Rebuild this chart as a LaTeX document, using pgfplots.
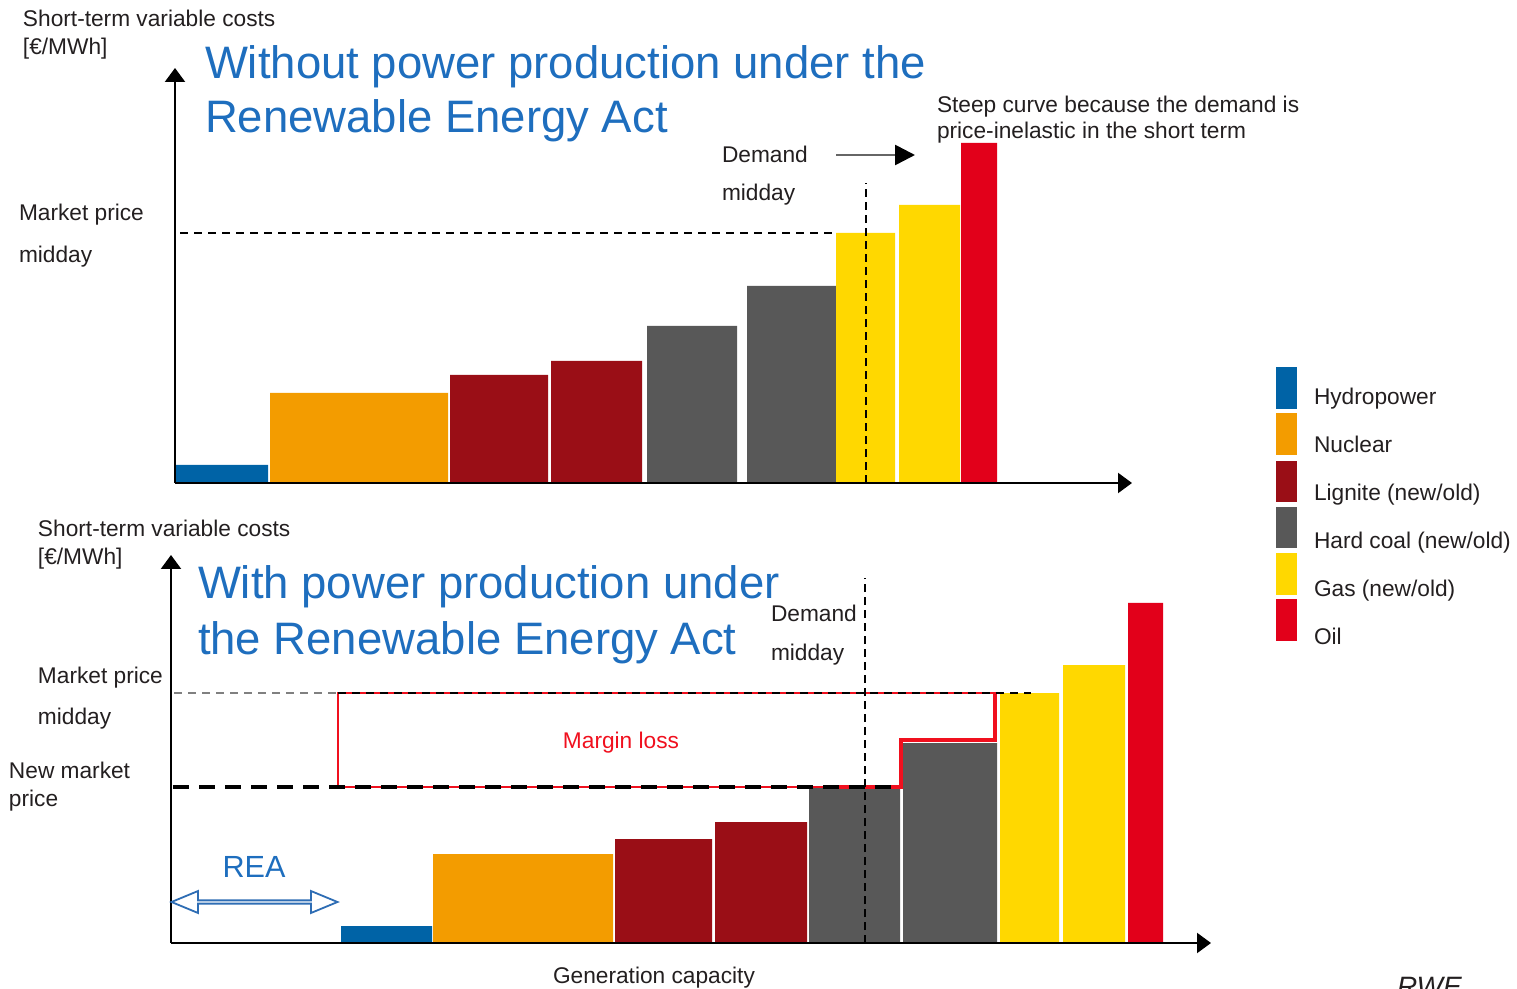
\documentclass[border=0pt]{standalone}
\usepackage{pgfplots}
\pgfplotsset{compat=1.18}
\usepackage{fontspec}
\setmainfont{Liberation Sans}
\usetikzlibrary{arrows.meta,shapes.arrows}
\definecolor{hydro}{HTML}{0063A6}
\definecolor{nuclear}{HTML}{F39C00}
\definecolor{lignite}{HTML}{9A0E16}
\definecolor{hardcoal}{HTML}{585858}
\definecolor{gas}{HTML}{FFD800}
\definecolor{oil}{HTML}{E2001A}
\definecolor{titleblue}{HTML}{1E6EBE}
\definecolor{reablue}{HTML}{2E6DB4}
\definecolor{txt}{HTML}{231F20}
\definecolor{marginred}{HTML}{F0101E}
\newcommand{\bodyfont}{\fontsize{11.35pt}{13.6pt}\selectfont}
\newcommand{\titlefont}{\fontsize{22.75pt}{27pt}\selectfont}
\begin{document}
\begin{tikzpicture}
\useasboundingbox (0,0) rectangle (758.5pt,-494.5pt);
% ---------------- top panel ----------------
\begin{axis}[
  at={(87.5pt,-241.5pt)}, anchor=south west,
  x=0.5pt, y=0.5pt,
  xmin=0, xmax=957, ymin=0, ymax=415,
  axis lines=left, axis on top,
  axis line style={line width=1.1pt, -{Triangle[length=7pt,width=10pt]}},
  xtick=\empty, ytick=\empty,
  clip=false,
]
\addplot[fill=hydro, draw=none] coordinates {(0,0)(0,18)(93,18)(93,0)} \closedcycle;
\addplot[fill=nuclear, draw=none] coordinates {(95,0)(95,90)(273,90)(273,0)} \closedcycle;
\addplot[fill=lignite, draw=none] coordinates {(275,0)(275,108)(373,108)(373,0)} \closedcycle;
\addplot[fill=lignite, draw=none] coordinates {(376,0)(376,122)(467,122)(467,0)} \closedcycle;
\addplot[fill=hardcoal, draw=none] coordinates {(472,0)(472,157)(562,157)(562,0)} \closedcycle;
\addplot[fill=hardcoal, draw=none] coordinates {(572,0)(572,197)(661,197)(661,0)} \closedcycle;
\addplot[fill=gas, draw=none] coordinates {(661,0)(661,250)(720,250)(720,0)} \closedcycle;
\addplot[fill=gas, draw=none] coordinates {(724,0)(724,278)(785,278)(785,0)} \closedcycle;
\addplot[fill=oil, draw=none] coordinates {(786,0)(786,340)(822,340)(822,0)} \closedcycle;
% market price
\addplot[black, line width=0.8pt, dash pattern=on 4pt off 3pt] coordinates {(5,250)(661,250)};
% demand
\addplot[black, line width=0.9pt, dash pattern=on 4pt off 2.5pt] coordinates {(691,0)(691,300)};
\end{axis}
% ---------------- bottom panel ----------------
\begin{axis}[
  at={(85.5pt,-471.5pt)}, anchor=south west,
  x=0.5pt, y=0.5pt,
  xmin=0, xmax=1040, ymin=0, ymax=388,
  axis lines=left, axis on top,
  axis line style={line width=1.1pt, -{Triangle[length=7pt,width=10pt]}},
  xtick=\empty, ytick=\empty,
  clip=false,
]
\addplot[fill=hydro, draw=none] coordinates {(170,0)(170,17)(261,17)(261,0)} \closedcycle;
\addplot[fill=nuclear, draw=none] coordinates {(262,0)(262,89)(442,89)(442,0)} \closedcycle;
\addplot[fill=lignite, draw=none] coordinates {(444,0)(444,104)(541,104)(541,0)} \closedcycle;
\addplot[fill=lignite, draw=none] coordinates {(544,0)(544,121)(636,121)(636,0)} \closedcycle;
\addplot[fill=hardcoal, draw=none] coordinates {(638,0)(638,156)(729,156)(729,0)} \closedcycle;
\addplot[fill=hardcoal, draw=none] coordinates {(732,0)(732,200)(826,200)(826,0)} \closedcycle;
\addplot[fill=gas, draw=none] coordinates {(829,0)(829,250)(888,250)(888,0)} \closedcycle;
\addplot[fill=gas, draw=none] coordinates {(892,0)(892,278)(954,278)(954,0)} \closedcycle;
\addplot[fill=oil, draw=none] coordinates {(957,0)(957,340)(992,340)(992,0)} \closedcycle;
% old market price
\addplot[gray, line width=0.9pt, dash pattern=on 4pt off 3pt] coordinates {(3,250)(167,250)};
% margin loss outline
\addplot[marginred, line width=0.8pt] coordinates {(167,156)(167,250)(824,250)(824,203)(730,203)(730,156)(167,156)};
\addplot[marginred, line width=1.6pt] coordinates {(660,156)(730,156)(730,203)(824,203)(824,250)};
\addplot[black, line width=0.9pt, dash pattern=on 4pt off 3pt] coordinates {(167,250)(860,250)};
% new market price
\addplot[black, line width=1.6pt, dash pattern=on 8pt off 5pt] coordinates {(2,156)(728,156)};
% demand
\addplot[black, line width=0.9pt, dash pattern=on 4pt off 2.5pt] coordinates {(694,0)(694,365)};
\end{axis}
% ---------------- annotations (pixel coordinates) ----------------
\begin{scope}[x=0.5pt, y=-0.5pt, every node/.style={inner sep=0pt, outer sep=0pt, text=txt}]
% top panel texts
\node[anchor=base west, font=\bodyfont] at (23,27) {Short-term variable costs};
\node[anchor=base west, font=\bodyfont] at (23,55) {[€/MWh]};
\node[anchor=base west, font=\titlefont, text=titleblue] at (205,79) {Without power production under the};
\node[anchor=base west, font=\titlefont, text=titleblue] at (205,133) {Renewable Energy Act};
\node[anchor=base west, font=\bodyfont] at (19,221) {Market price};
\node[anchor=base west, font=\bodyfont] at (19,263) {midday};
\node[anchor=base west, font=\bodyfont] at (722,163) {Demand};
\node[anchor=base west, font=\bodyfont] at (722,201) {midday};
\draw[gray!80!black, line width=1.3pt, -{Triangle[length=10pt,width=10pt,color=black]}] (836,155) -- (915,155);
\node[anchor=base west, font=\bodyfont] at (937,113) {Steep curve because the demand is};
\node[anchor=base west, font=\bodyfont] at (937,139) {price-inelastic in the short term};
% legend
\fill[hydro] (1276,367) rectangle (1297,409);
\fill[nuclear] (1276,413) rectangle (1297,455);
\fill[lignite] (1276,461) rectangle (1297,502);
\fill[hardcoal] (1276,507) rectangle (1297,548);
\fill[gas] (1276,553) rectangle (1297,595);
\fill[oil] (1276,599) rectangle (1297,641);
\node[anchor=base west, font=\bodyfont] at (1314,405) {Hydropower};
\node[anchor=base west, font=\bodyfont] at (1314,453) {Nuclear};
\node[anchor=base west, font=\bodyfont] at (1314,501) {Lignite (new/old)};
\node[anchor=base west, font=\bodyfont] at (1314,549) {Hard coal (new/old)};
\node[anchor=base west, font=\bodyfont] at (1314,597) {Gas (new/old)};
\node[anchor=base west, font=\bodyfont] at (1314,645) {Oil};
% bottom panel texts
\node[anchor=base west, font=\bodyfont] at (38,537) {Short-term variable costs};
\node[anchor=base west, font=\bodyfont] at (38,565) {[€/MWh]};
\node[anchor=base west, font=\titlefont, text=titleblue] at (198,599) {With power production under};
\node[anchor=base west, font=\titlefont, text=titleblue] at (198,654) {the Renewable Energy Act};
\node[anchor=base west, font=\bodyfont] at (38,683) {Market price};
\node[anchor=base west, font=\bodyfont] at (38,725) {midday};
\node[anchor=base west, font=\bodyfont] at (9,778) {New market};
\node[anchor=base west, font=\bodyfont] at (9,806) {price};
\node[anchor=base west, font=\bodyfont] at (771,622) {Demand};
\node[anchor=base west, font=\bodyfont] at (771,661) {midday};
\node[anchor=base, font=\bodyfont, text=marginred] at (621,748) {Margin loss};
\node[anchor=base, font=\fontsize{15.3pt}{18pt}\selectfont, text=titleblue] at (254,877) {REA};
\node[double arrow, draw=reablue, line width=0.9pt, fill=white,
      minimum height=83pt, minimum width=11pt, double arrow head extend=2.6pt,
      double arrow tip angle=45, inner sep=0pt] at (254.5,902) {};
\node[anchor=base west, font=\bodyfont] at (553,983) {Generation capacity};
\node[anchor=base west, font=\fontsize{14pt}{17pt}\selectfont\itshape] at (1397,996) {RWE};
\end{scope}
\end{tikzpicture}
\end{document}
